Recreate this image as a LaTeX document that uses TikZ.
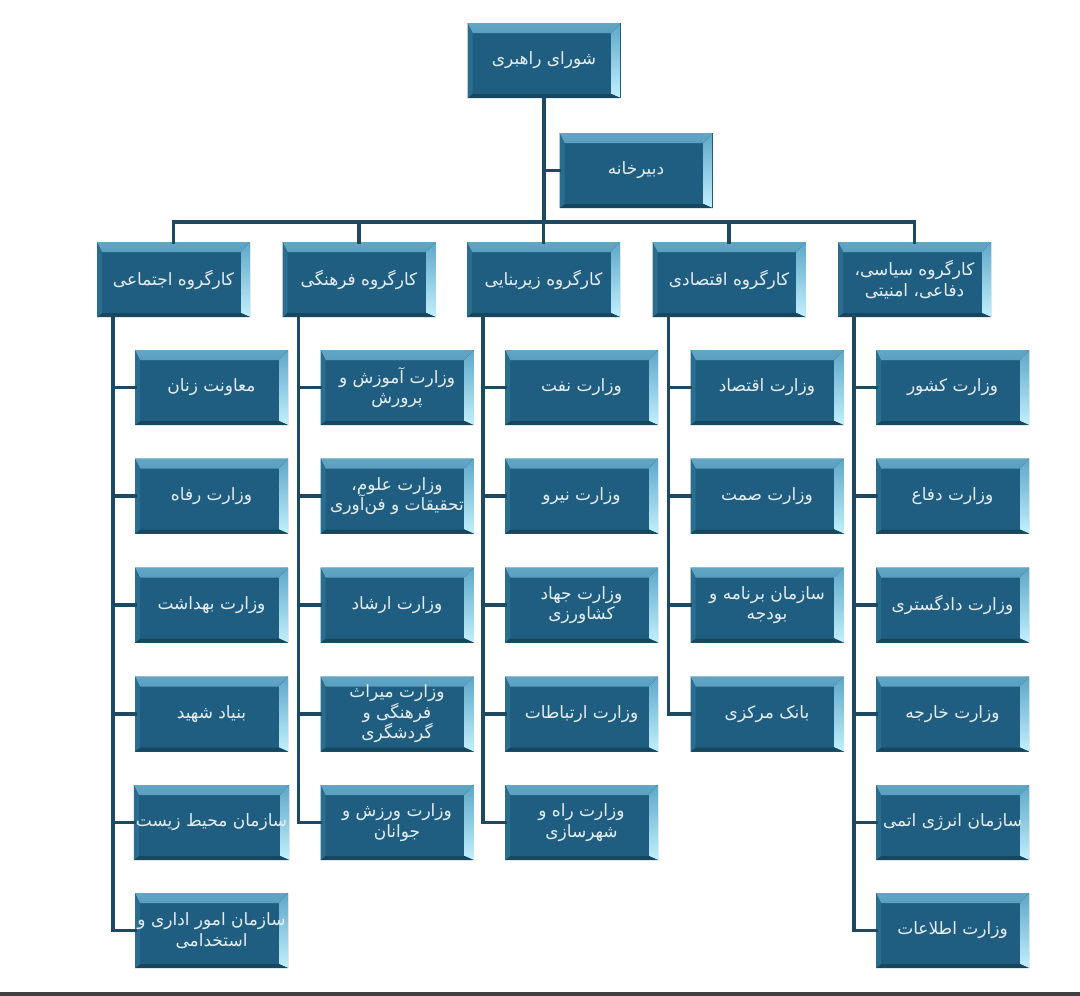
\documentclass[tikz,border=0pt]{standalone}
\usepackage{fontspec}
\TeXXeTstate=1
\newfontfamily\arabicfont[Script=Arabic]{DejaVu Sans}
\newcommand\rl[1]{\beginR #1\endR}
\definecolor{boxmain}{HTML}{1F5E80}
\definecolor{bvtopA}{HTML}{62A6C6}
\definecolor{bvtopB}{HTML}{2F7498}
\definecolor{bvright}{HTML}{C2F0FD}
\definecolor{bvrightA}{HTML}{5EA7C8}
\definecolor{bvbottom}{HTML}{16475F}
\definecolor{bvleft}{HTML}{2B6D8E}
\definecolor{linkc}{HTML}{1D4A62}
\definecolor{txtc}{HTML}{E6EEF2}
\tikzset{
  orgbox/.style={
    rectangle, minimum width=153pt, minimum height=75pt, inner sep=2pt, outer sep=0pt,
    fill=boxmain, text=txtc, align=center,
    font=\arabicfont\fontsize{17}{20.5}\selectfont,
    path picture={
      \fill[top color=bvtopA, bottom color=bvtopB]
        (path picture bounding box.north west) -- (path picture bounding box.north east)
        -- ([xshift=-9pt,yshift=-10pt]path picture bounding box.north east)
        -- ([xshift=5pt,yshift=-10pt]path picture bounding box.north west) -- cycle;
      \fill[top color=bvrightA, bottom color=bvright]
        (path picture bounding box.north east) -- (path picture bounding box.south east)
        -- ([xshift=-9pt,yshift=4pt]path picture bounding box.south east)
        -- ([xshift=-9pt,yshift=-10pt]path picture bounding box.north east) -- cycle;
      \fill[bvbottom]
        (path picture bounding box.south east) -- (path picture bounding box.south west)
        -- ([xshift=5pt,yshift=4pt]path picture bounding box.south west)
        -- ([xshift=-9pt,yshift=4pt]path picture bounding box.south east) -- cycle;
      \fill[bvleft]
        (path picture bounding box.south west) -- (path picture bounding box.north west)
        -- ([xshift=5pt,yshift=-10pt]path picture bounding box.north west)
        -- ([xshift=5pt,yshift=4pt]path picture bounding box.south west) -- cycle;
    }
  },
  link/.style={draw=linkc, line width=3.6pt, line cap=rect},
}
\begin{document}
\begin{tikzpicture}[x=1pt,y=-1pt]
\useasboundingbox (0,0) rectangle (1080,996);
\fill[white] (0,0) rectangle (1080,996);
\fill[black!75] (0,992) rectangle (1080,996);

% top
\node[orgbox] (top) at (544,60.5) {\rl{شورای راهبری}};
\node[orgbox] (sec) at (636,170.5) {\rl{دبیرخانه}};
\coordinate (junc) at (544,222);

% groups
\node[orgbox] (g1) at (173.5,279.5) {\rl{کارگروه اجتماعی}};
\node[orgbox] (g2) at (359,279.5) {\rl{کارگروه فرهنگی}};
\node[orgbox] (g3) at (543.5,279.5) {\rl{کارگروه زیربنایی}};
\node[orgbox] (g4) at (729,279.5) {\rl{کارگروه اقتصادی}};
\node[orgbox] (g5) at (914.5,279.5) {\rl{کارگروه سیاسی،}\\\rl{دفاعی، امنیتی}};

% column 1
\node[orgbox] (c11) at (211.5,387.5) {\rl{معاونت زنان}};
\node[orgbox] (c12) at (211.5,496) {\rl{وزارت رفاه}};
\node[orgbox] (c13) at (211.5,605) {\rl{وزارت بهداشت}};
\node[orgbox] (c14) at (211.5,714) {\rl{بنیاد شهید}};
\node[orgbox] (c15) at (211.5,822.5) {\rl{سازمان محیط زیست}};
\node[orgbox] (c16) at (211.5,930.5) {\rl{سازمان امور اداری و}\\\rl{استخدامی}};

% column 2
\node[orgbox] (c21) at (397,387.5) {\rl{وزارت آموزش و}\\\rl{پرورش}};
\node[orgbox] (c22) at (397,496) {\rl{وزارت علوم،}\\\rl{تحقیقات و فن‌آوری}};
\node[orgbox] (c23) at (397,605) {\rl{وزارت ارشاد}};
\node[orgbox] (c24) at (397,714) {\rl{وزارت میراث}\\\rl{فرهنگی و}\\\rl{گردشگری}};
\node[orgbox] (c25) at (397,822.5) {\rl{وزارت ورزش و}\\\rl{جوانان}};

% column 3
\node[orgbox] (c31) at (581.5,387.5) {\rl{وزارت نفت}};
\node[orgbox] (c32) at (581.5,496) {\rl{وزارت نیرو}};
\node[orgbox] (c33) at (581.5,605) {\rl{وزارت جهاد}\\\rl{کشاورزی}};
\node[orgbox] (c34) at (581.5,714) {\rl{وزارت ارتباطات}};
\node[orgbox] (c35) at (581.5,822.5) {\rl{وزارت راه و}\\\rl{شهرسازی}};

% column 4
\node[orgbox] (c41) at (767,387.5) {\rl{وزارت اقتصاد}};
\node[orgbox] (c42) at (767,496) {\rl{وزارت صمت}};
\node[orgbox] (c43) at (767,605) {\rl{سازمان برنامه و}\\\rl{بودجه}};
\node[orgbox] (c44) at (767,714) {\rl{بانک مرکزی}};

% column 5
\node[orgbox] (c51) at (952.5,387.5) {\rl{وزارت کشور}};
\node[orgbox] (c52) at (952.5,496) {\rl{وزارت دفاع}};
\node[orgbox] (c53) at (952.5,605) {\rl{وزارت دادگستری}};
\node[orgbox] (c54) at (952.5,714) {\rl{وزارت خارجه}};
\node[orgbox] (c55) at (952.5,822.5) {\rl{سازمان انرژی اتمی}};
\node[orgbox] (c56) at (952.5,930.5) {\rl{وزارت اطلاعات}};

% connectors
\draw[link] (top.south) -- (junc);
\draw[link] (top.south |- sec.west) -- (sec.west);
\foreach \g in {g1,g2,g3,g4,g5} { \draw[link] (junc) -| (\g.north); }
\foreach \c in {c11,c12,c13,c14,c15,c16} { \draw[link] ([xshift=16pt]g1.south west) |- (\c.west); }
\foreach \c in {c21,c22,c23,c24,c25} { \draw[link] ([xshift=16pt]g2.south west) |- (\c.west); }
\foreach \c in {c31,c32,c33,c34,c35} { \draw[link] ([xshift=16pt]g3.south west) |- (\c.west); }
\foreach \c in {c41,c42,c43,c44} { \draw[link] ([xshift=16pt]g4.south west) |- (\c.west); }
\foreach \c in {c51,c52,c53,c54,c55,c56} { \draw[link] ([xshift=16pt]g5.south west) |- (\c.west); }
\end{tikzpicture}
\end{document}
